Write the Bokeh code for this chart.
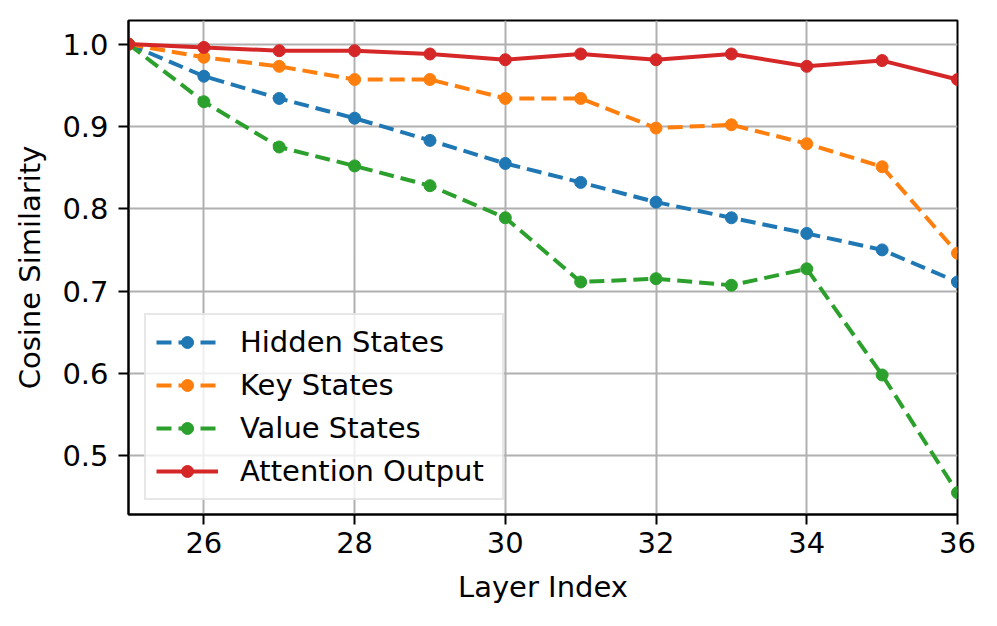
from bokeh.plotting import figure
from bokeh.models import Range1d, FixedTicker, PrintfTickFormatter, Legend, LegendItem
from bokeh.embed import file_html
from bokeh.resources import INLINE

layers = [25, 26, 27, 28, 29, 30, 31, 32, 33, 34, 35, 36]
hidden_states = [1.0, 0.961, 0.934, 0.910, 0.883, 0.855, 0.832, 0.808, 0.789, 0.770, 0.750, 0.711]
key_states = [1.0, 0.984, 0.973, 0.957, 0.957, 0.934, 0.934, 0.898, 0.902, 0.879, 0.851, 0.746]
value_states = [1.0, 0.930, 0.875, 0.852, 0.828, 0.789, 0.711, 0.715, 0.707, 0.727, 0.598, 0.455]
attention_output = [1.0, 0.996, 0.992, 0.992, 0.988, 0.981, 0.988, 0.981, 0.988, 0.973, 0.980, 0.957]

x_ticks = [26, 28, 30, 32, 34, 36]
y_ticks = [0.5, 0.6, 0.7, 0.8, 0.9, 1.0]

FONT = "DejaVu Sans"
FS = "29px"

p = figure(width=981, height=610, output_backend="svg", toolbar_location=None,
           x_range=Range1d(25, 36), y_range=Range1d(0.4285, 1.0287),
           min_border_left=128, min_border_right=24, min_border_top=20, min_border_bottom=96)
p.background_fill_color = "white"
p.outline_line_color = "black"
p.outline_line_width = 2

p.xaxis.ticker = FixedTicker(ticks=x_ticks)
p.yaxis.ticker = FixedTicker(ticks=y_ticks)
p.yaxis.formatter = PrintfTickFormatter(format="%.1f")
p.xaxis.axis_label = "Layer Index"
p.yaxis.axis_label = "Cosine Similarity"
for ax in (p.xaxis, p.yaxis):
    ax.axis_label_text_font = FONT
    ax.axis_label_text_font_size = FS
    ax.axis_label_text_font_style = "normal"
    ax.axis_label_text_color = "black"
    ax.major_label_text_font = FONT
    ax.major_label_text_font_size = FS
    ax.major_label_text_color = "black"
    ax.axis_line_color = "black"
    ax.axis_line_width = 2
    ax.major_tick_line_color = "black"
    ax.major_tick_line_width = 2
    ax.major_tick_out = 10
    ax.major_tick_in = 0
    ax.minor_tick_line_color = None
p.xaxis.major_label_standoff = 7
p.yaxis.major_label_standoff = 10
p.xaxis.axis_label_standoff = 14
p.yaxis.axis_label_standoff = 12

p.grid.grid_line_color = "#b0b0b0"
p.grid.grid_line_width = 2

series = [
    ("Hidden States", hidden_states, "#1f77b4", "15 7"),
    ("Key States", key_states, "#ff7f0e", "15 7"),
    ("Value States", value_states, "#2ca02c", "15 7"),
    ("Attention Output", attention_output, "#d62728", "solid"),
]

items = []
for name, vals, color, dash in series:
    ln = p.line(layers, vals, line_color=color, line_width=4, line_dash=dash)
    sc = p.scatter(layers, vals, size=12, fill_color=color, line_color=color)
    items.append(LegendItem(label=name, renderers=[ln, sc]))

legend = Legend(items=items, location=(16, 14))
legend.label_text_font = FONT
legend.label_text_font_size = FS
legend.label_text_color = "black"
legend.glyph_width = 62
legend.glyph_height = 30
legend.label_height = 30
legend.label_width = 252
legend.label_standoff = 22
legend.spacing = 9
legend.padding = 10
legend.border_line_color = "#d0d0d0"
legend.border_line_width = 2
legend.background_fill_color = "white"
legend.background_fill_alpha = 0.8
p.add_layout(legend, "center")

open("out.html", "w").write(file_html(p, INLINE))
